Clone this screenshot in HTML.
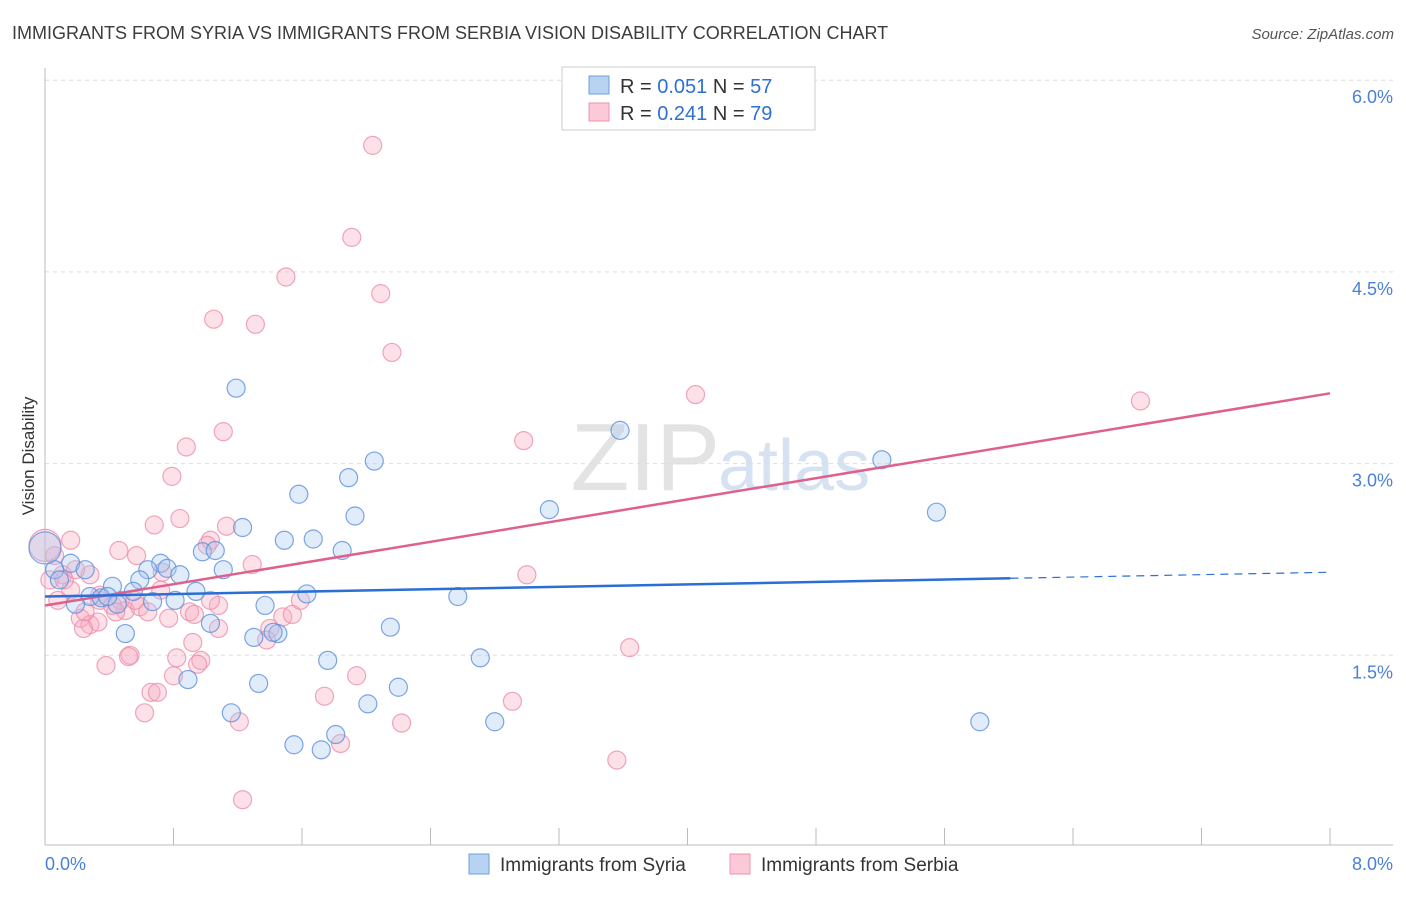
<!DOCTYPE html>
<html><head><meta charset="utf-8"><style>
body{margin:0;background:#fff;font-family:"Liberation Sans",sans-serif}
svg text{font-family:"Liberation Sans",sans-serif}
</style></head><body>
<svg id="c" width="1406" height="892">
<text x="12" y="39" font-size="18" fill="#3c3c3c">IMMIGRANTS FROM SYRIA VS IMMIGRANTS FROM SERBIA VISION DISABILITY CORRELATION CHART</text>
<text x="1394" y="39" font-size="15" font-style="italic" fill="#555" text-anchor="end">Source: ZipAtlas.com</text>
<text x="34" y="456" font-size="17" fill="#333" text-anchor="middle" transform="rotate(-90 34 456)">Vision Disability</text>
<text x="720" y="490" font-size="96" font-family="Liberation Serif" fill="#e3e3e3" text-anchor="end">ZIP</text>
<text x="718" y="490" font-size="72" fill="#d6e2f2">atlas</text>
<g id="grid"></g><g id="axes"></g><g id="pts"></g><g id="trend"></g>
<g>
<rect x="562" y="67" width="253" height="63" fill="#fff" stroke="#ccc"/>
<rect x="589" y="76" width="20" height="18" fill="#b8d2f2" stroke="#6d9ee0"/>
<rect x="589" y="103" width="20" height="18" fill="#fbc9d8" stroke="#ee93ae"/>
<text x="620" y="93" font-size="20" fill="#333">R = <tspan fill="#2f6fd4">0.051</tspan>   N = <tspan fill="#2f6fd4">57</tspan></text>
<text x="620" y="120" font-size="20" fill="#333">R = <tspan fill="#2f6fd4">0.241</tspan>   N = <tspan fill="#2f6fd4">79</tspan></text>
</g>
<g>
<rect x="469" y="854" width="20" height="20" fill="#b8d2f2" stroke="#6d9ee0"/>
<text x="500" y="871" font-size="19" fill="#333">Immigrants from Syria</text>
<rect x="730" y="854" width="20" height="20" fill="#fbc9d8" stroke="#ee93ae"/>
<text x="761" y="871" font-size="19" fill="#333">Immigrants from Serbia</text>
</g>
</svg>
<script>
const yTicks=[1.5,3.0,4.5,6.0];
const xTickLabels=["0.0%","8.0%"];
const syriaX=[1.19,3.58,2.05,5.21,1.89,1.58,3.14,5.55,1.93,1.23,1.49,1.67,1.85,0.98,1.06,0.72,0.76,0.16,0.25,0.06,0.64,0.84,1.11,0.59,0.42,0.55,0.94,1.63,2.57,0.28,0.35,0.67,0.81,0.19,0.45,1.37,1.03,2.15,0.50,1.30,1.45,1.42,1.76,2.71,0.89,1.33,2.20,2.01,1.16,2.80,5.82,1.81,1.55,1.72,0.0,0.09,0.39];
const syriaY=[3.59,3.26,3.02,3.03,2.89,2.76,2.64,2.62,2.59,2.50,2.40,2.41,2.32,2.31,2.32,2.22,2.18,2.22,2.17,2.17,2.17,2.13,2.17,2.09,2.04,2.00,2.00,1.98,1.96,1.96,1.95,1.92,1.93,1.90,1.90,1.89,1.75,1.72,1.67,1.64,1.67,1.68,1.46,1.48,1.31,1.28,1.25,1.12,1.05,0.98,0.98,0.88,0.80,0.76,2.34,2.09,1.96];
const serbiaX=[2.04,1.91,1.50,2.09,1.05,1.31,2.16,4.05,6.82,1.11,2.98,0.88,0.79,0.84,0.68,1.13,1.03,1.01,0.46,0.57,1.29,3.00,0.73,0.28,0.06,0.03,0.11,0.16,0.08,0.34,0.47,0.50,0.59,0.64,0.90,1.08,0.93,0.77,0.22,0.28,0.33,0.24,1.48,1.54,1.40,1.38,1.08,0.92,0.53,0.52,0.82,0.97,0.95,0.38,1.94,3.64,0.80,1.74,0.66,0.70,2.91,0.62,1.21,2.22,1.84,3.56,1.23,0.12,0.19,0.34,0.42,0.72,1.03,1.59,0.0,0.16,0.25,0.44,0.56];
const serbiaY=[5.49,4.77,4.46,4.33,4.13,4.09,3.87,3.54,3.49,3.25,3.18,3.13,2.90,2.57,2.52,2.51,2.40,2.36,2.32,2.28,2.21,2.13,2.15,2.13,2.28,2.09,2.13,2.01,1.93,1.97,1.93,1.85,1.88,1.84,1.84,1.89,1.82,1.79,1.79,1.74,1.76,1.71,1.80,1.82,1.71,1.62,1.71,1.60,1.50,1.49,1.48,1.46,1.43,1.42,1.34,1.56,1.34,1.18,1.21,1.21,1.14,1.05,0.98,0.97,0.81,0.68,0.37,2.09,2.17,1.93,1.89,2.01,1.93,1.93,2.36,2.40,1.84,1.84,1.93];
const syriaTrend=[1.96,2.15];
const serbiaTrend=[1.89,3.55];
const syriaSolidEnd=6.01;
const NS="http://www.w3.org/2000/svg";
const X=v=>45+v/8*1285;
const Y=v=>847-v/1.5*191.7;
function mk(tag,attrs,parent){const e=document.createElementNS(NS,tag);for(const k in attrs)e.setAttribute(k,attrs[k]);parent.appendChild(e);return e;}
const grid=document.getElementById('grid'),axes=document.getElementById('axes'),pts=document.getElementById('pts'),tr=document.getElementById('trend');
yTicks.forEach(t=>{
 const l=mk('line',{x1:45,x2:1393,y1:Y(t),y2:Y(t),stroke:'#ddd','stroke-dasharray':'4,4'},grid);
 
 
 const tx=mk('text',{x:1393,y:Y(t)+23,'font-size':18,fill:'#4a80d8','text-anchor':'end'},grid);
 tx.textContent=t.toFixed(1)+'%';
 
 
});
const la=mk('line',{x1:45,x2:45,y1:68,y2:845,stroke:'#bbb'},axes);


const ba=mk('line',{x1:45,x2:1393,y1:845,y2:845,stroke:'#bbb'},axes);


for(let i=1;i<=10;i++){const tk=mk('line',{x1:X(i*0.8),x2:X(i*0.8),y1:828,y2:845,stroke:'#bbb'},axes);
 
 }
const xl0=mk('text',{x:45,y:870,'font-size':18,fill:'#4a80d8'},axes);xl0.textContent=xTickLabels[0];


const xl1=mk('text',{x:1393,y:870,'font-size':18,fill:'#4a80d8','text-anchor':'end'},axes);xl1.textContent=xTickLabels[1];


function dots(xs,ys,fill,stroke,name){xs.forEach((x,i)=>{const r=(x===0)?16:9;
 const c=mk('circle',{cx:X(x),cy:Y(ys[i]),r:r,fill:fill,'fill-opacity':0.35,stroke:stroke,'stroke-opacity':0.8,'stroke-width':1.2},pts);
 
 });}
dots(serbiaX,serbiaY,'#f7a8c0','#ee8fab','point-serbia');
dots(syriaX,syriaY,'#a9c8f0','#5b8fdc','point-syria');
const ps=mk('line',{x1:X(0),y1:Y(serbiaTrend[0]),x2:X(8),y2:Y(serbiaTrend[1]),stroke:'#e0608c','stroke-width':2.5},tr);


const yAt=x=>syriaTrend[0]+(syriaTrend[1]-syriaTrend[0])*x/8;
const bs=mk('line',{x1:X(0),y1:Y(yAt(0)),x2:X(syriaSolidEnd),y2:Y(yAt(syriaSolidEnd)),stroke:'#2a6fd6','stroke-width':2.5},tr);


const bd=mk('line',{x1:X(syriaSolidEnd),y1:Y(yAt(syriaSolidEnd)),x2:X(8),y2:Y(yAt(8)),stroke:'#2a6fd6','stroke-width':1.2,'stroke-dasharray':'8,6'},tr);


</script>
</body></html>
